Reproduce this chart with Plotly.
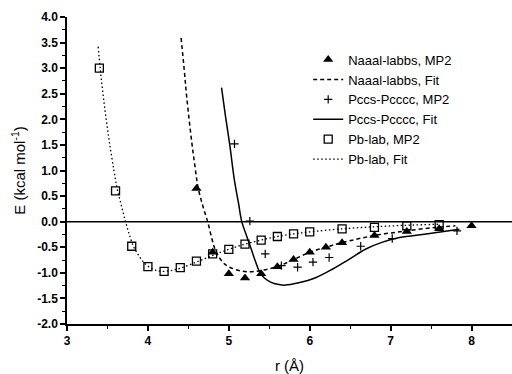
import plotly.graph_objects as go

# ---- data ----
naaal_r = [4.6, 4.8, 5.0, 5.2, 5.4, 5.6, 5.8, 6.0, 6.2, 6.4, 6.8, 7.2, 7.6, 8.0]
naaal_e = [0.65, -0.60, -1.02, -1.10, -1.02, -0.88, -0.74, -0.60, -0.50, -0.41, -0.27, -0.19, -0.14, -0.08]

naaal_fit_r = [4.41, 4.45, 4.48, 4.54, 4.58, 4.62, 4.68, 4.74, 4.79, 4.83, 4.89, 4.95, 5.01, 5.14,
               5.26, 5.38, 5.50, 5.63, 5.80, 6.0, 6.2, 6.4, 6.8, 7.2, 7.56, 7.8]
naaal_fit_e = [3.59, 2.95, 2.43, 1.58, 1.10, 0.67, 0.30, -0.01, -0.33, -0.54, -0.72, -0.83, -0.89, -0.96,
               -0.98, -0.96, -0.92, -0.86, -0.74, -0.60, -0.50, -0.41, -0.27, -0.18, -0.11, -0.08]

pccs_r = [5.07, 5.26, 5.45, 5.65, 5.85, 6.04, 6.24, 6.63, 7.02, 7.82]
pccs_e = [1.52, 0.01, -0.63, -0.86, -0.89, -0.79, -0.70, -0.48, -0.33, -0.18]

pccs_fit_r = [4.91, 4.96, 5.01, 5.07, 5.12, 5.16, 5.22, 5.28, 5.33, 5.38, 5.44, 5.53, 5.62, 5.70,
              5.85, 6.08, 6.29, 6.49, 6.70, 6.90, 7.11, 7.44, 7.85]
pccs_fit_e = [2.62, 2.05, 1.52, 0.80, 0.36, 0.0, -0.28, -0.55, -0.78, -0.98, -1.10, -1.19, -1.23, -1.24,
              -1.20, -1.09, -0.92, -0.73, -0.53, -0.40, -0.31, -0.24, -0.15]

pb_r = [3.4, 3.6, 3.8, 4.0, 4.2, 4.4, 4.6, 4.8, 5.0, 5.2, 5.4, 5.6, 5.8, 6.0, 6.4, 6.8, 7.2, 7.6]
pb_e = [3.0, 0.6, -0.48, -0.88, -0.97, -0.90, -0.77, -0.63, -0.54, -0.44, -0.36, -0.29, -0.24, -0.20, -0.14, -0.11, -0.08, -0.06]

pb_fit_r = [3.385, 3.41, 3.46, 3.52, 3.58, 3.62, 3.67, 3.72, 3.77, 3.82, 3.87, 3.92, 3.97, 4.03,
            4.10, 4.20, 4.30, 4.40, 4.60, 4.80, 5.0, 5.2, 5.4, 5.6, 5.8, 6.0, 6.4, 6.8, 7.2, 7.6]
pb_fit_e = [3.42, 3.0, 2.30, 1.60, 1.00, 0.64, 0.33, 0.02, -0.25, -0.48, -0.62, -0.74, -0.83, -0.90,
            -0.95, -0.97, -0.95, -0.91, -0.79, -0.66, -0.54, -0.44, -0.36, -0.29, -0.24, -0.20, -0.14, -0.10, -0.07, -0.05]

y_ticks = [4.0, 3.5, 3.0, 2.5, 2.0, 1.5, 1.0, 0.5, 0.0, -0.5, -1.0, -1.5, -2.0]
y_labels = ["4.0", "3.5", "3.0", "2.5", "2.0", "1.5", "1.0", "0.5", "0.0", "-0.5", "-1.0", "-1.5", "-2.0"]
x_ticks = [3, 4, 5, 6, 7, 8]
x_labels = ["3", "4", "5", "6", "7", "8"]

FONT = "Liberation Sans, Arial, sans-serif"

fig = go.Figure()
fig.add_trace(go.Scatter(x=naaal_r, y=naaal_e, mode="markers", name="Naaal-labbs, MP2",
                         marker=dict(symbol="triangle-up", size=9, color="black")))
fig.add_trace(go.Scatter(x=naaal_fit_r, y=naaal_fit_e, mode="lines", name="Naaal-labbs, Fit",
                         line=dict(color="black", width=1.5, dash="4px,3px", shape="spline", smoothing=1.0)))
fig.add_trace(go.Scatter(x=pccs_r, y=pccs_e, mode="markers", name="Pccs-Pcccc, MP2",
                         marker=dict(symbol="cross-thin", size=6, color="black",
                                     line=dict(color="black", width=1.2))))
fig.add_trace(go.Scatter(x=pccs_fit_r, y=pccs_fit_e, mode="lines", name="Pccs-Pcccc, Fit",
                         line=dict(color="black", width=1.5, shape="spline", smoothing=1.0)))
fig.add_trace(go.Scatter(x=pb_r, y=pb_e, mode="markers", name="Pb-lab, MP2",
                         marker=dict(symbol="square-open", size=8, color="black",
                                     line=dict(color="black", width=1.3))))
fig.add_trace(go.Scatter(x=pb_fit_r, y=pb_fit_e, mode="lines", name="Pb-lab, Fit",
                         line=dict(color="black", width=1.3, dash="1.5px,2.5px", shape="spline", smoothing=1.0)))

fig.add_hline(y=0, line=dict(color="black", width=1.5))

fig.update_layout(
    width=512, height=374,
    margin=dict(l=67, r=0, t=17, b=50),
    paper_bgcolor="white", plot_bgcolor="white",
    font=dict(family=FONT, color="black", size=12),
    showlegend=True,
    legend=dict(x=0.542, y=0.91, xanchor="left", yanchor="top",
                bgcolor="rgba(0,0,0,0)", font=dict(size=13, family=FONT)),
)
fig.update_xaxes(range=[3, 8.5], showgrid=False, zeroline=False,
                 showline=True, linecolor="black", linewidth=1.5,
                 ticks="outside", ticklen=5, tickwidth=1.5, tickcolor="black",
                 tickvals=x_ticks, ticktext=x_labels,
                 tickfont=dict(size=12, family=FONT, weight="bold"),
                 minor=dict(dtick=0.5, tick0=3, ticks="outside", ticklen=3, tickwidth=1, tickcolor="black"),
                 title=dict(text="r (Å)", font=dict(size=15, family=FONT), standoff=14))
fig.update_yaxes(range=[-2, 4], showgrid=False, zeroline=False,
                 showline=True, linecolor="black", linewidth=1.5,
                 ticks="outside", ticklen=5, tickwidth=1.5, tickcolor="black",
                 tickvals=y_ticks, ticktext=y_labels,
                 tickfont=dict(size=12, family=FONT, weight="bold"),
                 minor=dict(dtick=0.25, tick0=0, ticks="outside", ticklen=3, tickwidth=1, tickcolor="black"),
                 title=dict(text="E (kcal mol<sup>-1</sup>)", font=dict(size=15, family=FONT), standoff=8))

fig.write_html("out.html")
